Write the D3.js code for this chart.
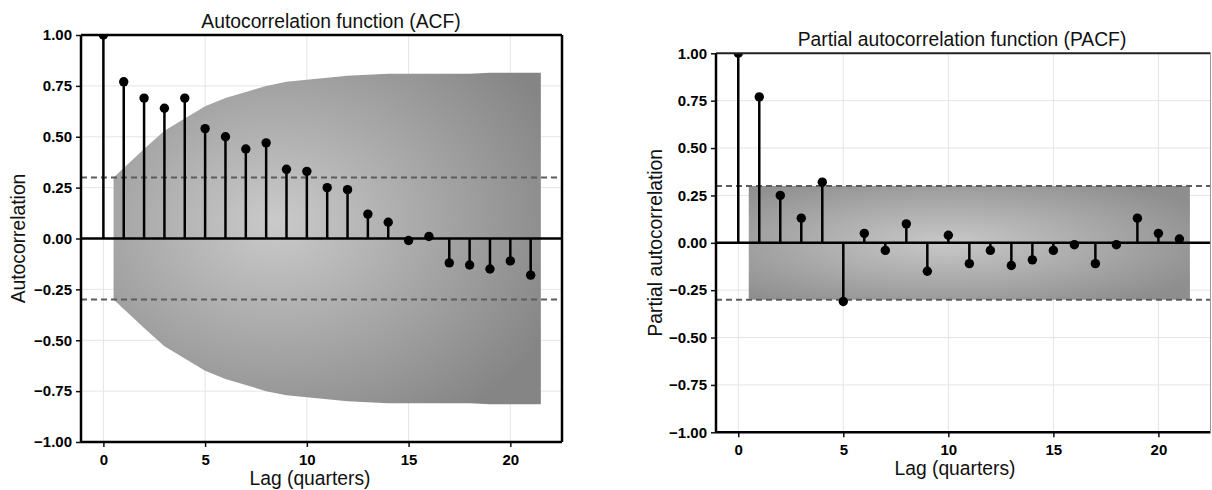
<!DOCTYPE html>
<html>
<head>
<meta charset="utf-8">
<script src="https://cdn.jsdelivr.net/npm/d3@7"></script>
<style>
  html, body { margin: 0; padding: 0; background: #fff; }
  .tick text { font-family: "Liberation Sans", Arial, sans-serif; font-weight: bold; font-size: 15px; fill: #000; }
  .tick line { stroke: #111; stroke-width: 1.5; }
  .lbl { font-family: "Liberation Sans", Arial, sans-serif; font-size: 19.3px; fill: #111; }
</style>
</head>
<body>
<div id="chart"></div>
<script>
// lags 0..21
var lags = [0, 1, 2, 3, 4, 5, 6, 7, 8, 9, 10, 11, 12, 13, 14, 15, 16, 17, 18, 19, 20, 21];

var acfValues = [1.00, 0.77, 0.69, 0.64, 0.69, 0.54, 0.50, 0.44, 0.47, 0.34, 0.33,
                 0.25, 0.24, 0.12, 0.08, -0.01, 0.01, -0.12, -0.13, -0.15, -0.11, -0.18];

var pacfValues = [1.00, 0.77, 0.25, 0.13, 0.32, -0.31, 0.05, -0.04, 0.10, -0.15, 0.04,
                  -0.11, -0.04, -0.12, -0.09, -0.04, -0.01, -0.11, -0.01, 0.13, 0.05, 0.02];

// confidence band (upper edge, lower is the mirror)
var acfBandLags = [0.5, 2, 3, 4, 5, 6, 7, 8, 9, 10, 11, 12, 13, 14, 15, 16, 17, 18, 19, 20, 21.5];
var acfBandUpper = [0.30, 0.44, 0.53, 0.59, 0.65, 0.69, 0.72, 0.75, 0.77, 0.78, 0.79,
                    0.80, 0.805, 0.81, 0.81, 0.81, 0.81, 0.81, 0.815, 0.815, 0.815];

var pacfBandLags = [0.5, 21.5];
var pacfBandUpper = [0.30, 0.30];

var dashLevel = 0.30;
var xTicks = [0, 5, 10, 15, 20];
var yTicks = [-1, -0.75, -0.5, -0.25, 0, 0.25, 0.5, 0.75, 1];

var W = 1212, H = 490;

var svg = d3.select('#chart').append('svg')
  .attr('width', W).attr('height', H)
  .style('display', 'block');

var defs = svg.append('defs');

function addGradient(id, cx, cy, r, c0, c1) {
  var gr = defs.append('radialGradient').attr('id', id)
    .attr('cx', cx).attr('cy', cy).attr('r', r);
  gr.append('stop').attr('offset', '0%').attr('stop-color', c0);
  gr.append('stop').attr('offset', '100%').attr('stop-color', c1);
}
addGradient('acfGrad', '0.38', '0.45', '0.72', '#cacaca', '#858585');
addGradient('pacfGrad', '0.45', '0.5', '0.65', '#c8c8c8', '#8e8e8e');

function panel(p) {
  var x = d3.scaleLinear().domain(p.xDomain).range([p.left, p.right]);
  var y = d3.scaleLinear().domain([-1, 1]).range([p.bottom, p.top]);
  var g = svg.append('g');

  g.append('clipPath').attr('id', p.id + 'Clip')
    .append('rect')
    .attr('x', p.left).attr('y', p.top)
    .attr('width', p.right - p.left).attr('height', p.bottom - p.top);

  // grid
  g.selectAll('.gx').data(xTicks).enter().append('line')
    .attr('x1', d => x(d)).attr('x2', d => x(d))
    .attr('y1', p.top).attr('y2', p.bottom)
    .attr('stroke', '#e4e4e4').attr('stroke-width', 1);
  g.selectAll('.gy').data(yTicks).enter().append('line')
    .attr('x1', p.left).attr('x2', p.right)
    .attr('y1', d => y(d)).attr('y2', d => y(d))
    .attr('stroke', '#e4e4e4').attr('stroke-width', 1);

  // band
  var band = p.bandLags.map((l, i) => ({ lag: l, up: p.bandUpper[i] }));
  g.append('path').datum(band)
    .attr('d', d3.area().x(d => x(d.lag)).y0(d => y(-d.up)).y1(d => y(d.up)))
    .attr('fill', 'url(#' + p.grad + ')');

  // dashed lines
  g.selectAll('.dash').data([dashLevel, -dashLevel]).enter().append('line')
    .attr('x1', p.left).attr('x2', p.right)
    .attr('y1', d => y(d)).attr('y2', d => y(d))
    .attr('stroke', '#5c5c5c').attr('stroke-width', 2)
    .attr('stroke-dasharray', '6,4');

  // zero line
  g.append('line')
    .attr('x1', p.left).attr('x2', p.right)
    .attr('y1', y(0)).attr('y2', y(0))
    .attr('stroke', '#000').attr('stroke-width', 2.5);

  var pts = lags.map((l, i) => ({ lag: l, v: p.values[i] }));
  var marks = g.append('g').attr('clip-path', 'url(#' + p.id + 'Clip)');
  marks.selectAll('.stem').data(pts).enter().append('line')
    .attr('x1', d => x(d.lag)).attr('x2', d => x(d.lag))
    .attr('y1', y(0)).attr('y2', d => y(d.v))
    .attr('stroke', '#000').attr('stroke-width', 2.5);
  marks.selectAll('circle').data(pts).enter().append('circle')
    .attr('cx', d => x(d.lag)).attr('cy', d => y(d.v))
    .attr('r', 4.7).attr('fill', '#000');

  // axes
  var fmt = d3.format('.2f');
  var ax = g.append('g').attr('transform', 'translate(' + p.left + ',0)')
    .call(d3.axisLeft(y).tickValues(yTicks).tickFormat(fmt).tickSize(5).tickPadding(4));
  ax.select('.domain').remove();
  var bx = g.append('g').attr('transform', 'translate(0,' + p.bottom + ')')
    .call(d3.axisBottom(x).tickValues(xTicks).tickSize(5).tickPadding(7));
  bx.select('.domain').remove();

  // spines
  g.append('line').attr('x1', p.left).attr('x2', p.left).attr('y1', p.top).attr('y2', p.bottom)
    .attr('stroke', '#000').attr('stroke-width', 2.5);
  g.append('line').attr('x1', p.left).attr('x2', p.right).attr('y1', p.bottom).attr('y2', p.bottom)
    .attr('stroke', '#000').attr('stroke-width', 2.5);
  g.append('line').attr('x1', p.left).attr('x2', p.right).attr('y1', p.top).attr('y2', p.top)
    .attr('stroke', p.topColor).attr('stroke-width', p.topWidth);
  g.append('line').attr('x1', p.right).attr('x2', p.right).attr('y1', p.top).attr('y2', p.bottom)
    .attr('stroke', p.rightColor).attr('stroke-width', p.rightWidth);

  // labels
  g.append('text').attr('class', 'lbl')
    .attr('x', p.titleX).attr('y', p.top - 7)
    .attr('text-anchor', 'middle').text(p.title);
  g.append('text').attr('class', 'lbl')
    .attr('x', p.xLabelX).attr('y', p.bottom + 43)
    .attr('text-anchor', 'middle').text('Lag (quarters)');
  g.append('text').attr('class', 'lbl')
    .attr('transform', 'translate(' + p.yLabelX + ',' + y(0) + ') rotate(-90)')
    .attr('text-anchor', 'middle').text(p.yLabel);
}

panel({
  id: 'acf', grad: 'acfGrad',
  left: 81, right: 562, top: 35, bottom: 442,
  xDomain: [-1.1, 22.54],
  values: acfValues, bandLags: acfBandLags, bandUpper: acfBandUpper,
  title: 'Autocorrelation function (ACF)', titleX: 331,
  xLabelX: 310, yLabel: 'Autocorrelation', yLabelX: 25,
  topColor: '#000', topWidth: 2.5, rightColor: '#000', rightWidth: 2.5
});

panel({
  id: 'pacf', grad: 'pacfGrad',
  left: 716, right: 1210.5, top: 53.3, bottom: 432.3,
  xDomain: [-1.06, 22.48],
  values: pacfValues, bandLags: pacfBandLags, bandUpper: pacfBandUpper,
  title: 'Partial autocorrelation function (PACF)', titleX: 962,
  xLabelX: 955, yLabel: 'Partial autocorrelation', yLabelX: 662,
  topColor: '#222', topWidth: 2, rightColor: '#999', rightWidth: 1
});
</script>
</body>
</html>
